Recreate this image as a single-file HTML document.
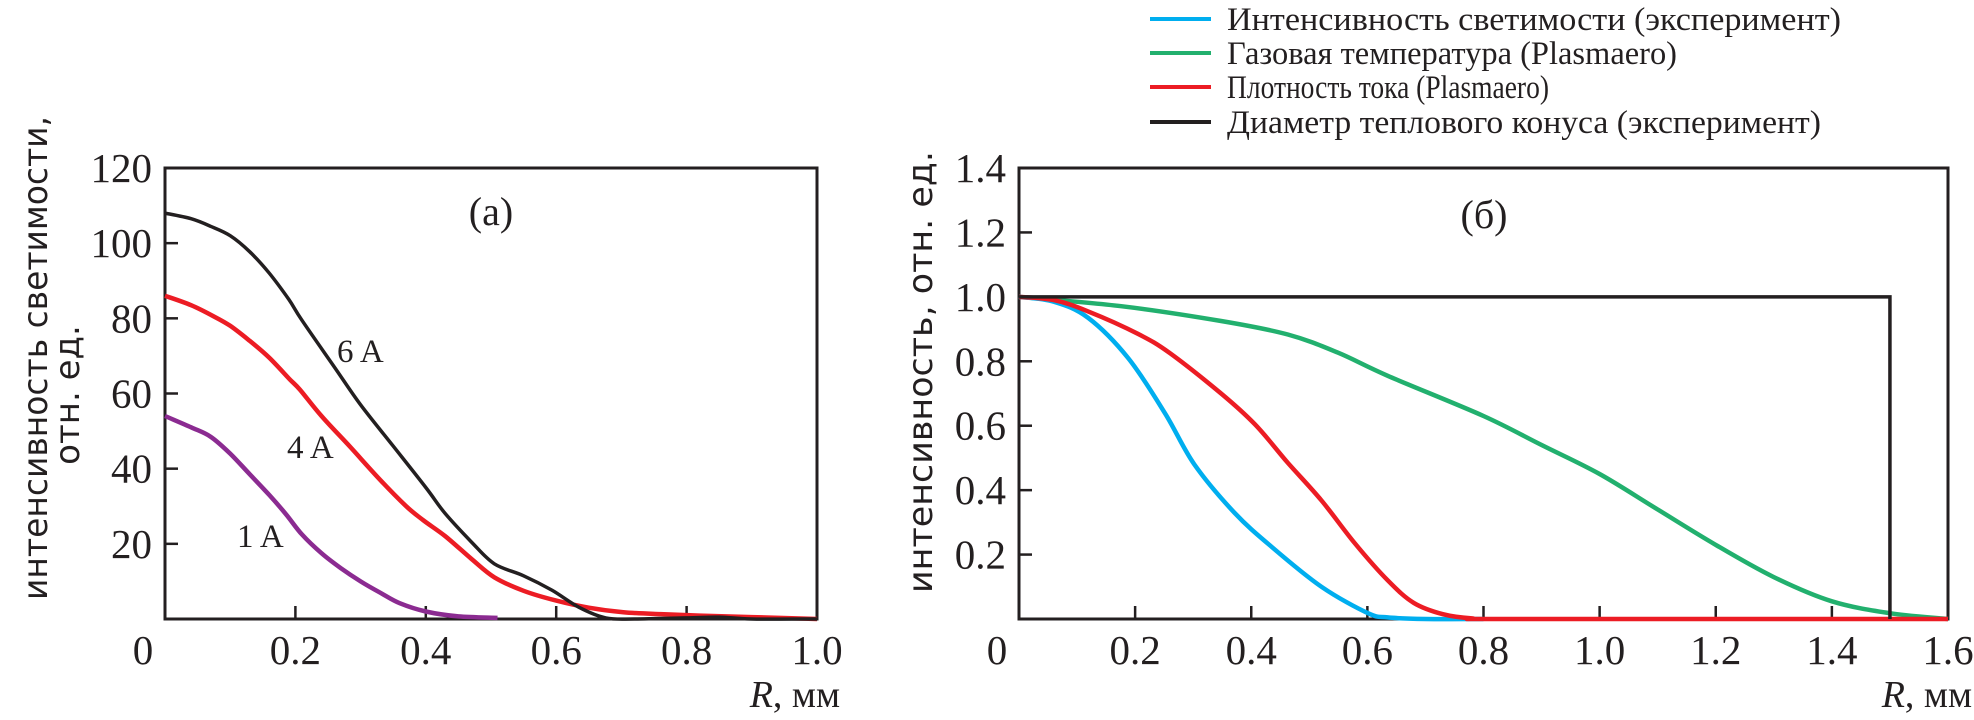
<!DOCTYPE html>
<html><head><meta charset="utf-8">
<style>
html,body{margin:0;padding:0;background:#fff;}
svg{display:block;}
.t{font-family:"Liberation Serif",serif;fill:#231f20;}
.s{font-family:"DejaVu Sans","Liberation Sans",sans-serif;fill:#231f20;}
</style></head>
<body>
<svg id="c" width="1974" height="720" viewBox="0 0 1974 720" xmlns="http://www.w3.org/2000/svg">
<g id="legend"></g>
<g id="pa"></g>
<g id="pb"></g>
</svg>
<script>
// ---- Panel (a) data ----
const aTicksX = [0.2,0.4,0.6,0.8,1.0];
const aTicksY = [20,40,60,80,100,120];
const a6x = [0,0.04,0.07,0.1,0.13,0.16,0.19,0.21,0.26,0.3,0.35,0.4,0.43,0.47,0.505,0.55,0.594,0.635,0.676,0.72,0.8,0.85,0.9,1.0];
const a6y = [108,106.5,104.5,102,97.7,92,85,79.5,67,57,46,35,28,20.5,14.7,11.5,7.6,3.1,0.3,0,0.3,0.5,0,0];
const a4x = [0,0.04,0.075,0.1,0.13,0.16,0.19,0.207,0.24,0.284,0.33,0.37,0.396,0.43,0.47,0.505,0.55,0.6,0.65,0.703,0.76,0.82,0.9,1.0];
const a4y = [86,83.5,80.5,78,74,69.5,64,61,54,45.8,37,30,26.3,22,16,11.1,7.5,4.9,3,1.8,1.3,0.9,0.5,0];
const a1x = [0,0.04,0.07,0.1,0.13,0.16,0.185,0.21,0.24,0.27,0.3,0.33,0.36,0.4,0.45,0.51];
const a1y = [54,51,48.5,44,38.5,33,28,22.5,17.5,13.5,10,7,4.2,2,0.7,0.3];
// ---- Panel (b) data ----
const bTicksX = [0.2,0.4,0.6,0.8,1.0,1.2,1.4,1.6];
const bTicksY = [0.2,0.4,0.6,0.8,1.0,1.2,1.4];
const blueX = [0,0.06,0.119,0.188,0.251,0.302,0.371,0.435,0.521,0.601,0.635,0.7,0.8];
const blueY = [1,0.985,0.935,0.81,0.64,0.48,0.33,0.224,0.1,0.018,0.005,0,0];
const greenX = [0,0.176,0.348,0.463,0.549,0.635,0.8,0.9,1.0,1.1,1.2,1.3,1.4,1.5,1.6];
const greenY = [1,0.971,0.925,0.883,0.827,0.755,0.63,0.54,0.45,0.34,0.23,0.13,0.055,0.018,0];
const redX = [0,0.06,0.119,0.205,0.26,0.348,0.406,0.463,0.521,0.578,0.635,0.68,0.73,0.78,0.85,1.6];
const redY = [1,0.99,0.955,0.885,0.825,0.7,0.605,0.485,0.368,0.236,0.12,0.05,0.015,0.002,0,0];
const coneX = [0,1.5,1.5];
const coneY = [1,1,0];

const NS = "http://www.w3.org/2000/svg";
function mk(parent, tag, attrs, text){
  const e = document.createElementNS(NS, tag);
  for (const k in attrs) e.setAttribute(k, attrs[k]);
  if (text !== undefined) e.textContent = text;
  parent.appendChild(e);
  return e;
}
function smoothPath(xs, ys, sx, sy){
  const p = xs.map((x,i)=>[sx(x), sy(ys[i])]);
  let d = "M"+p[0][0].toFixed(1)+","+p[0][1].toFixed(1);
  for (let i=0;i<p.length-1;i++){
    const p0=p[Math.max(i-1,0)], p1=p[i], p2=p[i+1], p3=p[Math.min(i+2,p.length-1)];
    const c1=[p1[0]+(p2[0]-p0[0])/6, p1[1]+(p2[1]-p0[1])/6];
    const c2=[p2[0]-(p3[0]-p1[0])/6, p2[1]-(p3[1]-p1[1])/6];
    d += " C"+c1[0].toFixed(1)+","+c1[1].toFixed(1)+" "+c2[0].toFixed(1)+","+c2[1].toFixed(1)+" "+p2[0].toFixed(1)+","+p2[1].toFixed(1);
  }
  return d;
}

// ---- Panel (a) ----
const pa = document.getElementById('pa');
const aL=165, aR=817, aT=168, aB=619;
const ax = v => aL + v/1.0*(aR-aL);
const ay = v => aB - v/120*(aB-aT);
let e;
e = mk(pa,'rect',{x:aL,y:aT,width:aR-aL,height:aB-aT,fill:'none',stroke:'#231f20','stroke-width':3});
 
aTicksX.forEach(v=>{
  if (v<1.0){ e=mk(pa,'line',{x1:ax(v),x2:ax(v),y1:aB,y2:aB-13,stroke:'#231f20','stroke-width':2.5});
      }
  e=mk(pa,'text',{x:ax(v),y:664,'text-anchor':'middle','font-size':41,class:'t'},v.toFixed(1));
   
});
e=mk(pa,'text',{x:143,y:664,'text-anchor':'middle','font-size':41,class:'t'},'0');
 
aTicksY.forEach(v=>{
  if (v<120){ e=mk(pa,'line',{x1:aL,x2:aL+13,y1:ay(v),y2:ay(v),stroke:'#231f20','stroke-width':2.5});
      }
  e=mk(pa,'text',{x:152,y:ay(v)+14,'text-anchor':'end','font-size':41,class:'t'},String(v));
   
});
e=mk(pa,'path',{d:smoothPath(a1x,a1y,ax,ay),fill:'none',stroke:'#8b2b91','stroke-width':4.5});
 
e=mk(pa,'path',{d:smoothPath(a4x,a4y,ax,ay),fill:'none',stroke:'#ec1c24','stroke-width':4.5});
 
e=mk(pa,'path',{d:smoothPath(a6x,a6y,ax,ay),fill:'none',stroke:'#231f20','stroke-width':3.5});
 
e=mk(pa,'text',{x:337,y:362,'font-size':33,class:'t'},'6 A');
 
e=mk(pa,'text',{x:287,y:458,'font-size':33,class:'t'},'4 A');
 
e=mk(pa,'text',{x:237,y:547,'font-size':33,class:'t'},'1 A');
 
e=mk(pa,'text',{x:491,y:225,'text-anchor':'middle','font-size':40,class:'t'},'(a)');
 
e=mk(pa,'text',{x:840,y:707,'text-anchor':'end','font-size':38,class:'t'});
 
mk(e,'tspan',{'font-style':'italic'},'R');
mk(e,'tspan',{},', мм');
e=mk(pa,'text',{transform:'translate(47,358) rotate(-90)','text-anchor':'middle','font-size':34,class:'s',textLength:484,lengthAdjust:'spacingAndGlyphs'},'интенсивность светимости,');
 
e=mk(pa,'text',{transform:'translate(79,395) rotate(-90)','text-anchor':'middle','font-size':34,class:'s'},'отн. ед.');
 

// ---- Panel (b) ----
const pb = document.getElementById('pb');
const bL=1019, bR=1948, bT=168, bB=619;
const bx = v => bL + v/1.6*(bR-bL);
const by = v => bB - v/1.4*(bB-bT);
e = mk(pb,'rect',{x:bL,y:bT,width:bR-bL,height:bB-bT,fill:'none',stroke:'#231f20','stroke-width':3});
 
bTicksX.forEach(v=>{
  if (v<1.6){ e=mk(pb,'line',{x1:bx(v),x2:bx(v),y1:bB,y2:bB-13,stroke:'#231f20','stroke-width':2.5});
      }
  e=mk(pb,'text',{x:bx(v),y:664,'text-anchor':'middle','font-size':41,class:'t'},v.toFixed(1));
   
});
e=mk(pb,'text',{x:997,y:664,'text-anchor':'middle','font-size':41,class:'t'},'0');
 
bTicksY.forEach(v=>{
  if (v<1.4){ e=mk(pb,'line',{x1:bL,x2:bL+13,y1:by(v),y2:by(v),stroke:'#231f20','stroke-width':2.5});
      }
  e=mk(pb,'text',{x:1006,y:by(v)+14,'text-anchor':'end','font-size':41,class:'t'},v.toFixed(1));
   
});
e=mk(pb,'path',{d:smoothPath(greenX,greenY,bx,by),fill:'none',stroke:'#22b06e','stroke-width':4.5});
 
e=mk(pb,'path',{d:smoothPath(blueX,blueY,bx,by),fill:'none',stroke:'#00aeef','stroke-width':4.5});
 
e=mk(pb,'path',{d:smoothPath(redX,redY,bx,by),fill:'none',stroke:'#ec1c24','stroke-width':4.5});
 
e=mk(pb,'polyline',{points:coneX.map((x,i)=>bx(x)+','+by(coneY[i])).join(' '),fill:'none',stroke:'#231f20','stroke-width':3.5});
 
e=mk(pb,'text',{x:1484,y:228,'text-anchor':'middle','font-size':40,class:'t'},'(б)');
 
e=mk(pb,'text',{x:1972,y:707,'text-anchor':'end','font-size':38,class:'t'});
 
mk(e,'tspan',{'font-style':'italic'},'R');
mk(e,'tspan',{},', мм');
e=mk(pb,'text',{transform:'translate(932,372) rotate(-90)','text-anchor':'middle','font-size':34,class:'s',textLength:442,lengthAdjust:'spacingAndGlyphs'},'интенсивность, отн. ед.');
 

// ---- Legend ----
const lg = document.getElementById('legend');
const legNames = ['Интенсивность светимости (эксперимент)','Газовая температура (Plasmaero)','Плотность тока (Plasmaero)','Диаметр теплового конуса (эксперимент)'];
const legColors = ['#00aeef','#22b06e','#ec1c24','#231f20'];
const legWidths = [614,450,322,594];
const legY = [19,53,87,122];
legNames.forEach((n,i)=>{
  const g = mk(lg,'g',{});
  
  
  mk(g,'line',{x1:1150,x2:1211,y1:legY[i],y2:legY[i],stroke:legColors[i],'stroke-width':4});
  mk(g,'text',{x:1227,y:legY[i]+11,'font-size':33,class:'t',textLength:legWidths[i],lengthAdjust:'spacingAndGlyphs'},n);
});
</script>
</body></html>
